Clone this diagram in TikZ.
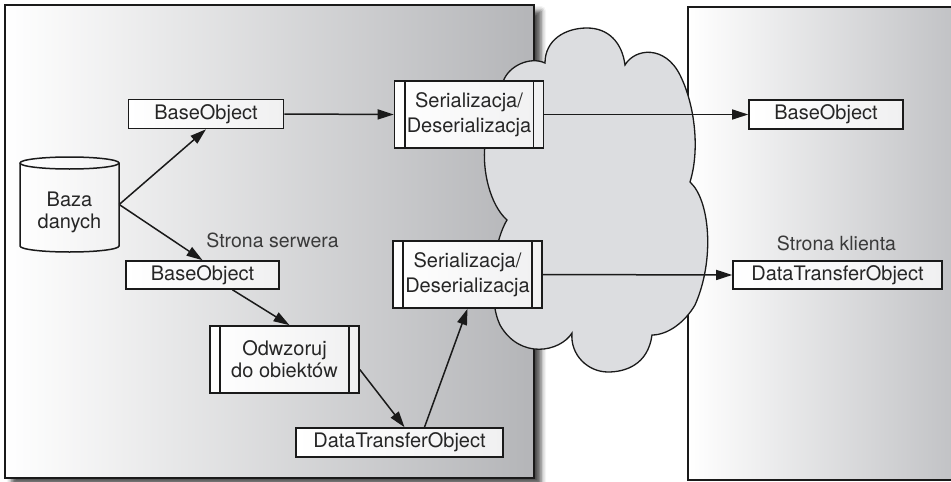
\documentclass[tikz,border=0pt]{standalone}
\usepackage{fontspec}
\setmainfont{TeX Gyre Heros}
\usetikzlibrary{arrows.meta,shadows.blur}
\definecolor{ink}{HTML}{1A1A1A}
\definecolor{txtc}{HTML}{262626}
\definecolor{panelR}{HTML}{B4B5B8}
\definecolor{clientR}{HTML}{C0C1C4}
\definecolor{cloudfill}{HTML}{DCDDE0}
\definecolor{boxR}{HTML}{F0F0F1}
\definecolor{labelgray}{HTML}{3A3A3A}
\begin{document}
\begin{tikzpicture}[x=1pt,y=-1pt,
  txt/.style={font=\fontsize{20}{22}\selectfont, text=txtc},
  box/.style={txt, draw=ink, left color=white, right color=boxR, line width=1.6pt, inner sep=0pt},
  obj/.style={box, minimum height=29pt},
  proc/.style={box, minimum width=149pt, minimum height=67pt, align=center},
  arr/.style={draw=ink, line width=1.5pt, -{Triangle[length=16pt,width=10pt]}},
  panel/.style={draw=ink, line width=1.5pt},
  lbl/.style={font=\fontsize{19.5}{22}\selectfont, text=labelgray}
]
\useasboundingbox (0,0) rectangle (951,482);

% panels
\draw[panel, left color=white, right color=panelR,
  blur shadow={shadow xshift=7pt, shadow yshift=-6pt, shadow blur radius=5pt, shadow opacity=70}]
  (5,5) rectangle (534,478);
\draw[panel, left color=white, right color=clientR] (688,7) rectangle (960,480);

% cloud
\draw[fill=cloudfill, draw=ink, line width=1.3pt]
  (503,82) .. controls (508,66) and (530,56) .. (545,63)
  .. controls (545,40) and (565,28) .. (587,28)
  .. controls (608,28) and (622,42) .. (625,65)
  .. controls (635,48) and (665,45) .. (680,75)
  .. controls (695,105) and (700,150) .. (690,182)
  .. controls (710,200) and (715,260) .. (695,305)
  .. controls (685,322) and (668,335) .. (652,335)
  .. controls (648,365) and (625,372) .. (608,372)
  .. controls (588,372) and (570,355) .. (572,333)
  .. controls (560,352) and (520,360) .. (500,325)
  .. controls (488,300) and (492,245) .. (507,220)
  .. controls (490,205) and (482,170) .. (485,145)
  .. controls (487,115) and (495,95) .. (503,82) -- cycle;

% database cylinder
\node[minimum width=99pt, minimum height=95pt, inner sep=0pt] (db) at (69.5,204.5) {};
\draw[left color=white, right color=boxR, draw=ink, line width=1.5pt]
  (20,163) -- (20,246) arc[start angle=180, end angle=360, x radius=49.5pt, y radius=6pt]
  -- (119,163) arc[start angle=0, end angle=180, x radius=49.5pt, y radius=6pt] -- cycle;
\draw[draw=ink, line width=1.5pt]
  (20,163) arc[start angle=180, end angle=360, x radius=49.5pt, y radius=6pt];
\node[txt, align=center] (dbtext) at (69.5,212) {Baza\\danych};

% nodes
\node[obj, minimum width=155pt] (bo1) at (206,114) {BaseObject};
\node[proc, font=\fontsize{20}{24.5}\selectfont] (s1) at (469,114.5) {Serializacja/\\Deserializacja};
\node[proc, font=\fontsize{20}{24.5}\selectfont] (s2) at (467.5,274.5) {Serializacja/\\Deserializacja};
\node[obj, minimum width=154pt] (cbo) at (826,114.5) {BaseObject};
\node[obj, minimum width=209pt, minimum height=28pt] (cdto) at (837.5,275) {DataTransferObject};
\node[obj, minimum width=153pt, minimum height=28pt] (bo2) at (202.5,275) {BaseObject};
\node[proc] (odw) at (284.5,359.5) {Odwzoruj\\do obiektów};
\node[obj, minimum width=207pt] (dto) at (399.5,442.5) {DataTransferObject};

% process side bars
\foreach \n in {s1,s2,odw}{
  \draw[draw=ink, line width=1.6pt] ([xshift=11pt]\n.north west) -- ([xshift=11pt]\n.south west);
  \draw[draw=ink, line width=1.6pt] ([xshift=-11pt]\n.north east) -- ([xshift=-11pt]\n.south east);
}

% labels
\node[lbl] (lserv) at (272.5,240) {Strona serwera};
\node[lbl] (lcli) at (836.5,243) {Strona klienta};

% connectors
\draw[arr] (db.east) -- (bo1.south);
\draw[arr] (db.east) -- (bo2.north);
\draw[arr] (bo1.east) -- (s1.west);
\draw[arr] ([xshift=30pt]bo2.south) -- ([xshift=5pt]odw.north);
\draw[arr] ([yshift=-10pt]odw.east) -- ([xshift=5pt]dto.north);
\draw[arr] ([xshift=25pt]dto.north) -- (s2.south);
\draw[arr] (s1.east) -- (cbo.west);
\draw[arr] (s2.east) -- (cdto.west);
\end{tikzpicture}
\end{document}
